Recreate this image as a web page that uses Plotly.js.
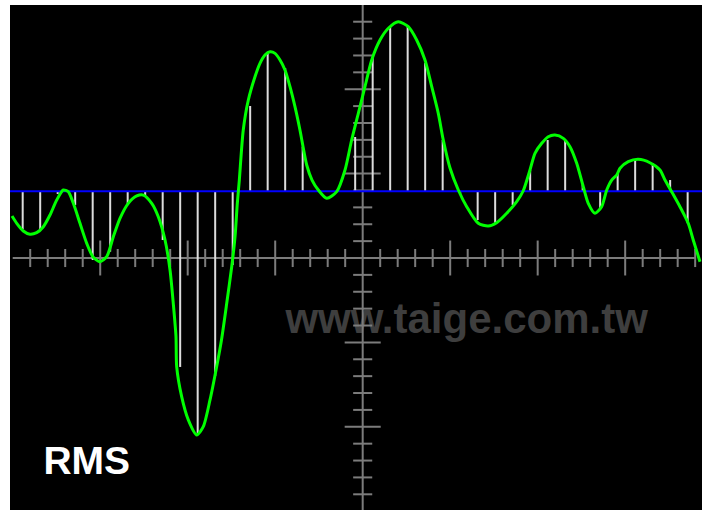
<!DOCTYPE html>
<html>
<head>
<meta charset="utf-8">
<script src="https://cdn.plot.ly/plotly-3.0.1.min.js"></script>
<style>html,body{margin:0;padding:0;background:#fff;}#chart{width:702px;height:510px;}</style>
</head>
<body>
<div id="chart"></div>
<script>
// Waveform (time and amplitude in screen divisions)
const waveTime = [-4.008,-3.954,-3.879,-3.803,-3.726,-3.650,-3.574,-3.497,-3.422,-3.365,-3.307,-3.231,-3.154,-3.079,-3.002,-2.926,-2.850,-2.774,-2.679,-2.583,-2.507,-2.411,-2.336,-2.259,-2.202,-2.165,-2.134,-2.126,-2.069,-1.993,-1.897,-1.822,-1.745,-1.669,-1.614,-1.554,-1.497,-1.459,-1.433,-1.410,-1.365,-1.307,-1.231,-1.174,-1.117,-1.059,-1.002,-0.945,-0.888,-0.831,-0.774,-0.717,-0.640,-0.579,-0.507,-0.411,-0.297,-0.202,-0.126,-0.050,0.026,0.103,0.198,0.293,0.407,0.521,0.617,0.712,0.789,0.864,0.921,0.998,1.093,1.189,1.321,1.435,1.531,1.646,1.760,1.835,1.912,1.969,2.046,2.121,2.198,2.293,2.369,2.446,2.521,2.578,2.655,2.731,2.789,2.846,2.903,2.941,3.035,3.150,3.283,3.398,3.455,3.531,3.626,3.721,3.778,3.855];
const waveVolts = [0.498,0.411,0.320,0.281,0.300,0.371,0.509,0.687,0.806,0.786,0.648,0.411,0.174,0.008,-0.044,0.015,0.252,0.470,0.648,0.735,0.746,0.648,0.489,0.213,-0.142,-0.537,-0.932,-1.288,-1.643,-1.919,-2.097,-1.999,-1.682,-1.288,-0.972,-0.537,-0.103,0.252,0.648,0.924,1.517,1.872,2.148,2.307,2.405,2.444,2.425,2.346,2.227,2.030,1.793,1.517,1.102,0.924,0.806,0.707,0.786,1.043,1.398,1.714,2.030,2.346,2.583,2.722,2.800,2.741,2.583,2.346,2.030,1.714,1.398,1.066,0.806,0.608,0.411,0.379,0.418,0.530,0.667,0.797,1.043,1.241,1.359,1.437,1.457,1.418,1.319,1.122,0.845,0.648,0.530,0.608,0.806,0.924,0.983,1.063,1.141,1.169,1.129,1.043,0.924,0.786,0.608,0.411,0.213,-0.044];

// Samples (white stems) measured from the RMS level
const sampleTime = [-3.886,-3.686,-3.486,-3.286,-3.086,-2.886,-2.686,-2.486,-2.286,-2.086,-1.886,-1.686,-1.486,-1.286,-1.086,-0.886,-0.686,-0.486,-0.286,-0.086,0.114,0.314,0.514,0.714,0.914,1.114,1.314,1.514,1.714,1.914,2.114,2.314,2.514,2.714,2.914,3.114,3.314,3.514,3.714];
const sampleVolts = [0.338,0.338,0.758,0.628,-0.024,0.075,0.628,0.726,0.213,-1.291,-2.097,-1.398,-0.083,1.801,2.429,2.251,1.319,0.770,0.794,1.434,2.385,2.741,2.741,2.310,1.398,0.760,0.450,0.411,0.628,1.043,1.398,1.398,0.871,0.589,1.000,1.161,1.122,0.924,0.411];

const rmsLevel = 0.79;
const labelText = 'RMS';
const watermarkText = 'www.taige.com.tw';

// Graticule tick positions
const xTicks = [];
for (let k = -19; k <= 19; k++) xTicks.push(k / 5);
const yTicks = [];
for (let k = -14; k <= 14; k++) yTicks.push(k / 5);

const XR = [-4.031, 3.878];
const YR = [-2.986, 2.998];

function isMajor(v) { return Math.abs(v - Math.round(v)) < 1e-6; }

// graticule traces
const gx = [], gy = [];
gx.push(-4.0, 3.81, null); gy.push(0, 0, null);
gx.push(0, 0, null); gy.push(YR[0], YR[1], null);
xTicks.forEach(t => {
  if (Math.abs(t) < 1e-6) return;
  const h = isMajor(t) ? 0.207 : 0.107;
  gx.push(t, t, null); gy.push(-h, h, null);
});
yTicks.forEach(t => {
  if (Math.abs(t) < 1e-6) return;
  const h = isMajor(t) ? 0.206 : 0.109;
  gx.push(-h, h, null); gy.push(t, t, null);
});

const sx = [], sy = [];
sampleTime.forEach((t, i) => { sx.push(t, t, null); sy.push(rmsLevel, sampleVolts[i], null); });

const traces = [
  { type: 'scatter', mode: 'text', x: [1.188], y: [-0.762], text: [watermarkText],
    textposition: 'middle center',
    textfont: { family: 'Liberation Sans, Arial, sans-serif', size: 42, color: '#3e3e3e', weight: 'bold' },
    hoverinfo: 'skip', showlegend: false },
  { type: 'scatter', mode: 'lines', x: gx, y: gy, line: { color: '#7c7c7c', width: 2 },
    hoverinfo: 'skip', showlegend: false },
  { type: 'scatter', mode: 'lines', x: sx, y: sy, line: { color: '#dcdcdc', width: 2 },
    hoverinfo: 'skip', showlegend: false },
  { type: 'scatter', mode: 'lines', x: XR, y: [rmsLevel, rmsLevel], line: { color: '#0000ff', width: 2 },
    hoverinfo: 'skip', showlegend: false },
  { type: 'scatter', mode: 'lines', x: waveTime, y: waveVolts,
    line: { color: '#00ff00', width: 3, shape: 'spline', smoothing: 0.7 },
    hoverinfo: 'skip', showlegend: false },
  { type: 'scatter', mode: 'text', x: [-3.154], y: [-2.441], text: [labelText],
    textposition: 'middle center',
    textfont: { family: 'Liberation Sans, Arial, sans-serif', size: 39, color: '#ffffff', weight: 'bold' },
    hoverinfo: 'skip', showlegend: false }
];

const axisCommon = { showgrid: false, zeroline: false, showticklabels: false, ticks: '', showline: false, fixedrange: true };

const layout = {
  width: 702, height: 510,
  margin: { l: 10, r: 0, t: 5, b: 0, pad: 0 },
  paper_bgcolor: '#ffffff',
  plot_bgcolor: '#000000',
  showlegend: false,
  xaxis: Object.assign({ range: XR }, axisCommon),
  yaxis: Object.assign({ range: YR }, axisCommon)
};

Plotly.newPlot('chart', traces, layout, { staticPlot: true, displayModeBar: false });
</script>
</body>
</html>
